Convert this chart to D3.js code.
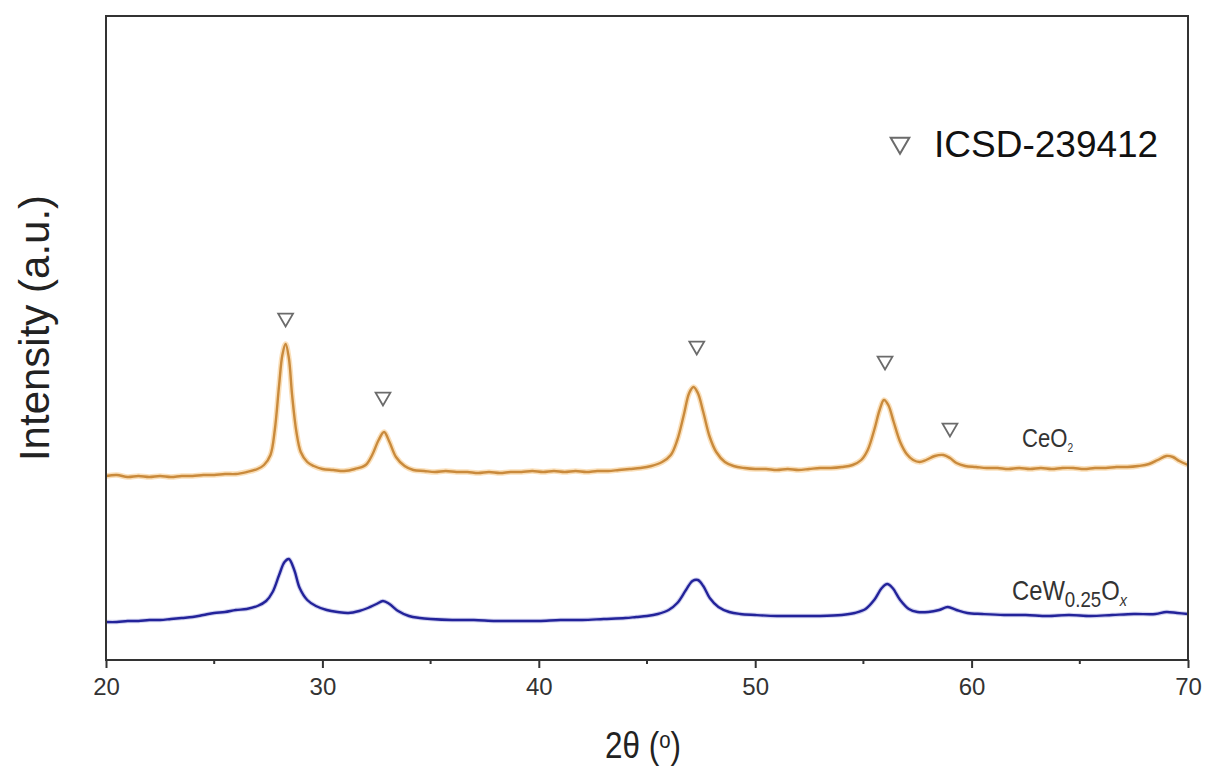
<!DOCTYPE html>
<html>
<head>
<meta charset="utf-8">
<script src="https://cdn.jsdelivr.net/npm/d3@7"></script>
<style>
  body { margin: 0; background: #fff; }
  svg { display: block; }
</style>
</head>
<body>
<svg width="1206" height="767"></svg>
<script>
// CeO2 pattern, [2theta, intensity]
const ceo2 = [
  [20,184],[20.5,185],[21,183],[21.5,184],[22,183],[22.5,184],[23,183],[23.5,184],[24,184],[24.5,185],
  [25,185],[25.5,186],[26,186],[26.5,188],[27,191],[27.3,195],[27.6,205],[27.8,230],[28,275],[28.15,305],
  [28.3,316],[28.45,302],[28.6,265],[28.8,228],[29,208],[29.3,198],[29.6,194],[30,191],[30.5,190],[31,189],
  [31.5,191],[32,195],[32.3,205],[32.6,220],[32.85,228],[33.1,218],[33.4,203],[33.8,194],[34.2,190],[34.7,189],
  [35.2,188],[35.7,189],[36.2,188],[36.7,188],[37.2,187],[37.7,188],[38.2,187],[38.7,188],[39.2,188],[39.7,189],
  [40.2,188],[40.7,189],[41.2,188],[41.7,189],[42.2,188],[42.7,189],[43.2,189],[43.7,190],[44.2,191],[44.7,192],
  [45.2,194],[45.7,198],[46.1,205],[46.4,220],[46.7,245],[46.95,267],[47.15,273],[47.35,267],[47.6,248],[47.9,223],
  [48.2,208],[48.6,198],[49,194],[49.5,192],[50,191],[50.5,191],[51,190],[51.5,191],[52,190],[52.5,191],
  [53,192],[53.5,192],[54,193],[54.5,195],[54.9,200],[55.2,210],[55.5,230],[55.75,250],[55.95,260],[56.15,255],
  [56.4,238],[56.7,218],[57,206],[57.3,200],[57.6,198],[57.9,200],[58.3,204],[58.7,205],[59,202],[59.3,197],
  [59.7,194],[60.2,193],[60.7,192],[61.2,192],[61.7,191],[62.2,192],[62.7,191],[63.2,192],[63.7,191],[64.2,192],
  [64.7,192],[65.2,191],[65.7,192],[66.2,192],[66.7,193],[67.2,193],[67.7,194],[68.2,196],[68.6,200],[69,204],
  [69.3,203],[69.6,199],[70,195]
];

// CeW0.25Ox pattern
const cew = [
  [20,38],[20.5,38],[21,39],[21.5,39],[22,40],[22.5,40],[23,41],[23.5,42],[24,43],[24.5,45],
  [25,47],[25.5,48],[26,50],[26.5,51],[27,54],[27.4,59],[27.7,68],[28,85],[28.25,98],[28.45,101],
  [28.7,90],[28.95,72],[29.3,60],[29.7,54],[30.2,50],[30.7,48],[31.2,47],[31.7,49],[32.1,52],[32.5,56],
  [32.8,59],[33.1,56],[33.5,49],[34,44],[34.5,42],[35,41],[36,40],[37,40],[38,39],[39,39],
  [40,39],[41,40],[42,40],[43,41],[44,42],[44.5,43],[45,44],[45.5,46],[46,50],[46.4,57],
  [46.8,70],[47.1,79],[47.35,80],[47.6,74],[47.9,62],[48.3,53],[48.8,48],[49.3,46],[50,45],[51,44],
  [52,44],[53,44],[54,45],[54.6,47],[55.1,51],[55.5,60],[55.85,72],[56.1,76],[56.35,72],[56.7,60],
  [57.1,51],[57.5,48],[58,48],[58.5,50],[58.9,53],[59.3,50],[59.8,47],[60.5,46],[61.5,45],[62.5,45],
  [63.5,44],[64.5,45],[65.5,44],[66.5,45],[67.5,46],[68.5,46],[69,48],[69.5,47],[70,46]
];

// reference peak markers (ICSD-239412)
const refPeaks = [28.3, 32.8, 47.3, 56.0, 59.0];
const refHeights = [342, 263, 314, 299, 232];

const xTicks = [20, 30, 40, 50, 60, 70];
const xMinor = [25, 35, 45, 55, 65];

const margin = { top: 16, left: 106, bottom: 107, right: 18 };
const width = 1206, height = 767;

const svg = d3.select('svg');

const xScale = d3.scaleLinear()
  .domain([20, 70])
  .range([margin.left, width - margin.right]);

const yScale = d3.scaleLinear()
  .domain([0, 644])
  .range([height - margin.bottom, margin.top]);

const sans = '"Liberation Sans", Arial, sans-serif';

// line traces
const line = d3.line()
  .x(d => xScale(d[0]))
  .y(d => yScale(d[1]))
  .curve(d3.curveCatmullRom);

svg.append('path').datum(ceo2)
  .attr('fill', 'none').attr('stroke', '#f7c98a').attr('stroke-width', 5.5).attr('opacity', 0.6)
  .attr('d', line);
svg.append('path').datum(ceo2)
  .attr('fill', 'none').attr('stroke', '#c98a3c').attr('stroke-width', 2.4)
  .attr('d', line);

svg.append('path').datum(cew)
  .attr('fill', 'none').attr('stroke', '#8c8fd8').attr('stroke-width', 4.5).attr('opacity', 0.4)
  .attr('d', line);
svg.append('path').datum(cew)
  .attr('fill', 'none').attr('stroke', '#23239a').attr('stroke-width', 2.4)
  .attr('d', line);

// triangle markers
const tri = d3.symbol().type(d3.symbolTriangle).size(95);
svg.append('g').selectAll('path')
  .data(refPeaks)
  .join('path')
  .attr('d', tri)
  .attr('transform', (d, i) => `translate(${xScale(d)}, ${yScale(refHeights[i])}) rotate(180)`)
  .attr('fill', 'none')
  .attr('stroke', '#6b6b6b')
  .attr('stroke-width', 1.8);

// legend
svg.append('path')
  .attr('d', d3.symbol().type(d3.symbolTriangle).size(150))
  .attr('transform', 'translate(900, 143) rotate(180)')
  .attr('fill', 'none').attr('stroke', '#6b6b6b').attr('stroke-width', 2);
svg.append('text')
  .attr('x', 934).attr('y', 157)
  .attr('font-family', sans).attr('font-size', 37).attr('fill', '#111')
  .text('ICSD-239412');

// sample labels (condensed look)
const lab1 = svg.append('text')
  .attr('transform', 'translate(1022, 447) scale(0.85, 1)')
  .attr('font-family', sans).attr('font-size', 26).attr('fill', '#333');
lab1.append('tspan').text('CeO');
lab1.append('tspan').attr('font-size', 12).attr('dy', 5).text('2');

const lab2 = svg.append('text')
  .attr('transform', 'translate(1012, 600) scale(0.85, 1)')
  .attr('font-family', sans).attr('font-size', 28).attr('fill', '#333');
lab2.append('tspan').text('CeW');
lab2.append('tspan').attr('font-size', 22).attr('dy', 7).text('0.25');
lab2.append('tspan').attr('dy', -7).text('O');
lab2.append('tspan').attr('font-size', 17).attr('font-style', 'italic').attr('dy', 6).text('x');

// frame
svg.append('rect')
  .attr('x', margin.left).attr('y', margin.top)
  .attr('width', width - margin.left - margin.right)
  .attr('height', height - margin.top - margin.bottom)
  .attr('fill', 'none').attr('stroke', '#333').attr('stroke-width', 2);

// x-axis
const xAxis = svg.append('g')
  .attr('transform', `translate(0, ${height - margin.bottom})`)
  .call(d3.axisBottom(xScale).tickValues(xTicks).tickSize(8).tickPadding(10).tickFormat(d3.format('d')));
xAxis.select('.domain').remove();
xAxis.selectAll('.tick line').attr('stroke', '#333').attr('stroke-width', 2);
xAxis.selectAll('.tick text')
  .attr('font-family', sans).attr('font-size', 24).attr('fill', '#333');

svg.append('g').selectAll('line')
  .data(xMinor)
  .join('line')
  .attr('x1', d => xScale(d)).attr('x2', d => xScale(d))
  .attr('y1', height - margin.bottom).attr('y2', height - margin.bottom + 4)
  .attr('stroke', '#333').attr('stroke-width', 2);

// axis titles
const xt = svg.append('text')
  .attr('transform', 'translate(643, 758) scale(0.85, 1)')
  .attr('text-anchor', 'middle')
  .attr('font-family', sans).attr('font-size', 37).attr('fill', '#222');
xt.append('tspan').text('2θ ');
xt.append('tspan').text('(');
xt.append('tspan').attr('font-size', 24).attr('dy', -10).text('o');
xt.append('tspan').attr('dy', 10).text(')');

svg.append('text')
  .attr('transform', 'translate(49, 328) rotate(-90)')
  .attr('text-anchor', 'middle')
  .attr('font-family', sans).attr('font-size', 42).attr('fill', '#222')
  .text('Intensity (a.u.)');
</script>
</body>
</html>
